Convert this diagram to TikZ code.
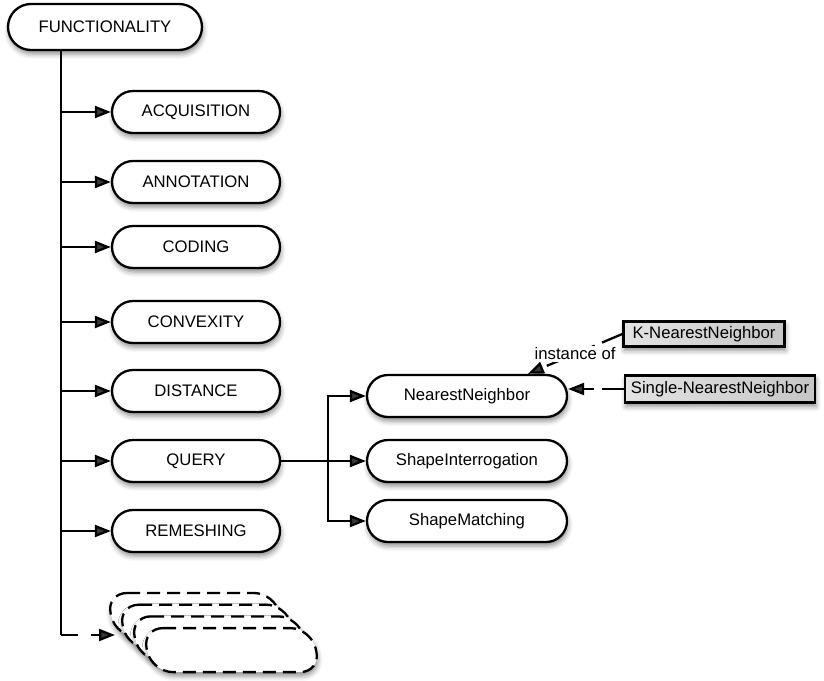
\documentclass[tikz,border=0pt]{standalone}
\usepackage{fontspec}
\setmainfont{Liberation Sans}
\usetikzlibrary{arrows.meta,shadows.blur,calc}

\tikzset{
  lbl/.style={font=\fontsize{16.7}{20}\selectfont},
  soft/.style={blur shadow={shadow xshift=1pt, shadow yshift=-4pt,
      shadow blur radius=5pt, shadow opacity=45}},
  pill/.style={lbl, draw, line width=2.3pt, fill=white, rounded corners=21pt,
      minimum height=42pt, inner sep=0pt, soft},
  topic/.style={pill, minimum width=168pt},
  sub/.style={pill, minimum width=200pt},
  inst/.style={lbl, draw, line width=2.3pt, left color=gray!22, right color=gray!45,
      inner sep=0pt, soft},
  headtip/.tip={Triangle[length=16pt,width=12pt]},
  link/.style={line width=2.3pt, -headtip},
  trunkline/.style={line width=2.3pt},
  dashlink/.style={link, dash pattern=on 22pt off 8pt},
  stackcard/.style={draw, line width=2.3pt, fill=white, rounded corners=21pt,
      dash pattern=on 13pt off 7pt, soft},
}

\begin{document}
\begin{tikzpicture}[x=1pt,y=-1pt]
\useasboundingbox (0,0) rectangle (824,680);

% root and first level
\node[pill, minimum width=194pt, minimum height=46pt, rounded corners=23pt] (func) at (105,27) {FUNCTIONALITY};
\node[topic] (acq) at (196,112) {ACQUISITION};
\node[topic] (ann) at (196,182) {ANNOTATION};
\node[topic] (cod) at (196,247) {CODING};
\node[topic] (cvx) at (196,322) {CONVEXITY};
\node[topic] (dst) at (196,391) {DISTANCE};
\node[topic] (qry) at (196,461) {QUERY};
\node[topic] (rem) at (196,531) {REMESHING};

% query specialisations
\node[sub] (nn) at (467,396) {NearestNeighbor};
\node[sub] (si) at (467,461) {ShapeInterrogation};
\node[sub] (sm) at (467,521) {ShapeMatching};

% instances
\node[inst, minimum width=161pt, minimum height=25pt] (knn) at (704,334) {K-NearestNeighbor};
\node[inst, minimum width=190pt, minimum height=27pt] (snn) at (720,389) {Single-NearestNeighbor};

% stack of further (unnamed) functionalities
\foreach \i in {0,...,3} {
  \path[stackcard] ({106+12*\i},{593+11.7*\i}) -- ++(169,0) -- ++(10,44) -- ++(-169,0) -- cycle;
}

% trunk and branches
\coordinate (trunk) at (61,0);
\coordinate (stackin) at (115,635);
\coordinate (fork) at (328,0);
\draw[trunkline] (func.south -| trunk) -- (trunk |- stackin);
\foreach \n in {acq,ann,cod,cvx,dst,qry,rem}
  \draw[link] (trunk |- \n.west) -- (\n.west);
\draw[link, dash pattern=on 17pt off 13pt] (trunk |- stackin) -- (stackin);

\draw[link] (qry.east) -- (si.west);
\draw[line width=2.3pt, headtip-headtip]
  (sm.west) -| (fork |- nn.west) -- (nn.west);

% instance links
\draw[dashlink] (knn.west) -- (nn.20)
  node[midway, lbl, fill=white, inner sep=2pt] {instance of};
\draw[dashlink] (snn.west) -- (snn.west -| nn.east);
\end{tikzpicture}
\end{document}
